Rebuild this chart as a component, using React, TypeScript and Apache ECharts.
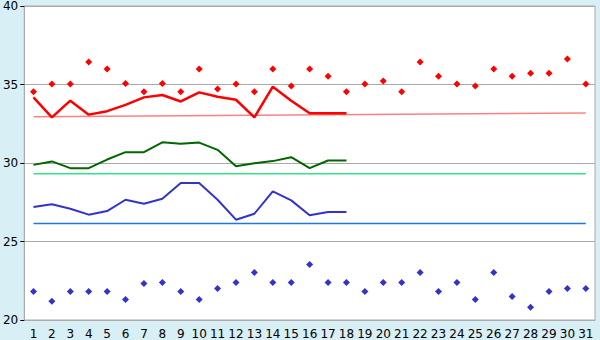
import React, { useEffect, useRef } from "react";
import * as echarts from "echarts";

const days = Array.from({ length: 31 }, (_, i) => String(i + 1));

const redDots = [34.54, 35.03, 35.03, 36.43, 35.98, 35.07, 34.54, 35.07, 34.54, 35.98, 34.71, 35.03, 34.54, 35.98, 34.9, 35.98, 35.53, 34.54, 35.03, 35.22, 34.54, 36.43, 35.53, 35.03, 34.9, 35.98, 35.53, 35.72, 35.72, 36.62, 35.03];
const blueDots = [21.82, 21.19, 21.82, 21.82, 21.82, 21.31, 22.33, 22.39, 21.82, 21.31, 22.01, 22.39, 23.03, 22.39, 22.39, 23.54, 22.39, 22.39, 21.82, 22.39, 22.39, 23.03, 21.82, 22.39, 21.31, 23.03, 21.5, 20.81, 21.82, 22.01, 22.01];

const redLine = [34.18, 32.91, 33.97, 33.08, 33.3, 33.7, 34.18, 34.33, 33.92, 34.5, 34.22, 34.03, 32.91, 34.86, 33.97, 33.17, 33.17, 33.17];
const greenLine = [29.88, 30.1, 29.67, 29.67, 30.22, 30.69, 30.69, 31.32, 31.22, 31.3, 30.84, 29.8, 29.99, 30.12, 30.37, 29.67, 30.16, 30.16];
const blueLine = [27.2, 27.37, 27.09, 26.71, 26.94, 27.66, 27.4, 27.72, 28.72, 28.72, 27.66, 26.39, 26.77, 28.19, 27.62, 26.67, 26.88, 26.88];

const redTrendStart = 32.95;
const redTrendEnd = 33.19;
const greenLevel = 29.31;
const blueLevel = 26.14;

const yTicks = { min: 20, max: 40, interval: 5 };

function pad(arr: number[]): (number | null)[] {
  return days.map((_, i) => (i < arr.length ? arr[i] : null));
}
function ends(a: number, b: number): (number | null)[] {
  return days.map((_, i) => (i === 0 ? a : i === days.length - 1 ? b : null));
}

export default function App() {
  const ref = useRef<HTMLDivElement>(null);
  useEffect(() => {
    const chart = echarts.init(ref.current!, null, { renderer: "svg" });
    const font = "DejaVu Sans";
    chart.setOption({
      animation: false,
      backgroundColor: "#d9eff6",
      grid: {
        left: 21,
        right: 5,
        top: 5,
        bottom: 20,
        show: true,
        backgroundColor: "#ffffff",
        borderColor: "#aaaaaa",
        borderWidth: 1,
      },
      xAxis: {
        type: "category",
        data: days,
        boundaryGap: true,
        axisLine: { lineStyle: { color: "#aaaaaa" } },
        axisTick: { alignWithLabel: true, length: 6, lineStyle: { color: "#000000" } },
        axisLabel: { color: "#000000", fontFamily: font, fontSize: 12, margin: 8, interval: 0 },
        splitLine: { show: false },
      },
      yAxis: {
        type: "value",
        min: yTicks.min,
        max: yTicks.max,
        interval: yTicks.interval,
        axisLine: { show: true, lineStyle: { color: "#aaaaaa" } },
        axisTick: { show: true, length: 4, lineStyle: { color: "#000000" } },
        axisLabel: { color: "#000000", fontFamily: font, fontSize: 12, margin: 6 },
        splitLine: { show: true, lineStyle: { color: "#aaaaaa", width: 1 } },
      },
      series: [
        {
          type: "line",
          data: ends(redTrendStart, redTrendEnd),
          connectNulls: true,
          symbol: "none",
          lineStyle: { color: "#ff8080", width: 1.5 },
          z: 1,
        },
        {
          type: "line",
          data: ends(greenLevel, greenLevel),
          connectNulls: true,
          symbol: "none",
          lineStyle: { color: "#33e38a", width: 1.5 },
          z: 1,
        },
        {
          type: "line",
          data: ends(blueLevel, blueLevel),
          connectNulls: true,
          symbol: "none",
          lineStyle: { color: "#2277dd", width: 1.5 },
          z: 1,
        },
        {
          type: "line",
          data: pad(redLine),
          symbol: "none",
          lineStyle: { color: "#ff0000", width: 2.5 },
          z: 2,
        },
        {
          type: "line",
          data: pad(greenLine),
          symbol: "none",
          lineStyle: { color: "#006600", width: 2 },
          z: 2,
        },
        {
          type: "line",
          data: pad(blueLine),
          symbol: "none",
          lineStyle: { color: "#3333cc", width: 2 },
          z: 2,
        },
        {
          type: "scatter",
          data: redDots,
          symbol: "diamond",
          symbolSize: 7,
          itemStyle: { color: "#ff0000", opacity: 1 },
          z: 3,
        },
        {
          type: "scatter",
          data: blueDots,
          symbol: "diamond",
          symbolSize: 7,
          itemStyle: { color: "#3333cc", opacity: 1 },
          z: 3,
        },
      ],
    });
    return () => chart.dispose();
  }, []);
  return (
    <div
      ref={ref}
      style={{ position: "fixed", left: 0, top: 0, width: 600, height: 340 }}
    />
  );
}
